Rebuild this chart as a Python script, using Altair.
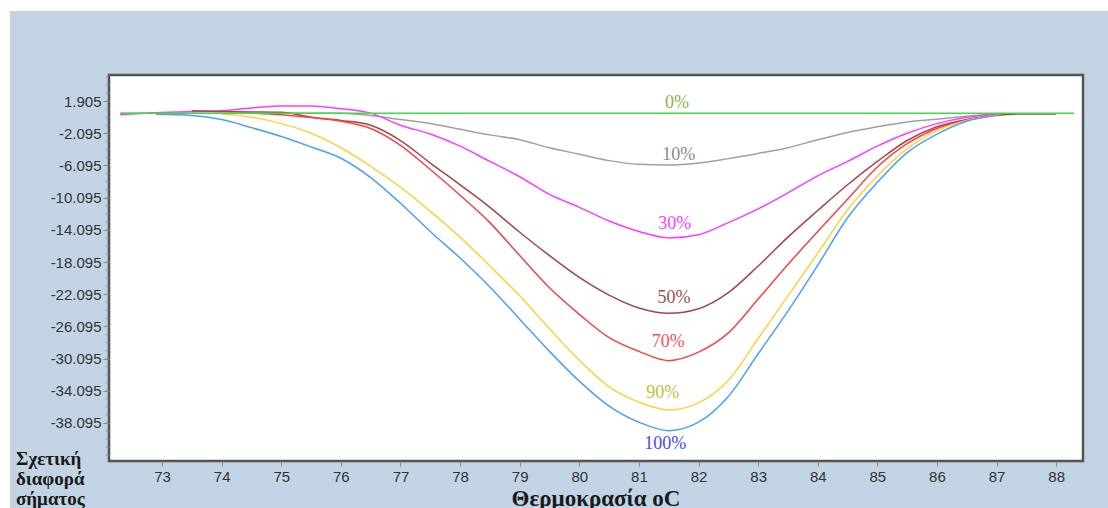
import altair as alt
import pandas as pd

# Temperature grid (°C) shared by the melt curves
TEMPS = [72.3, 72.9, 73.5, 74.0, 74.5, 75.0, 75.5, 76.0, 76.5, 77.0, 77.5, 78.0,
         78.5, 79.0, 79.5, 80.0, 80.5, 81.0, 81.5, 82.0, 82.5, 83.0, 83.5, 84.0,
         84.5, 85.0, 85.5, 86.0, 86.5, 87.0, 87.5, 88.0]

# Relative signal difference per mixture (None = not recorded)
S10 = [0.4, 0.4, 0.4, 0.4, 0.4, 0.4, 0.4, 0.4, 0.1, -0.4, -0.9, -1.6,
       -2.3, -2.9, -3.9, -4.7, -5.5, -5.95, -6.05, -5.8, -5.25, -4.6, -3.9, -2.9,
       -2.0, -1.3, -0.7, -0.35, 0.0, 0.25, None, None]
S30 = [0.2, 0.45, 0.6, 0.7, 1.05, 1.3, 1.3, 0.95, 0.4, -1.1, -2.2, -3.7,
       -5.6, -7.5, -9.7, -11.3, -13.0, -14.3, -15.1, -14.7, -13.2, -11.5, -9.5, -7.4,
       -5.6, -3.7, -2.1, -0.9, -0.1, 0.3, None, None]
S50 = [None, None, 0.7, 0.6, 0.55, 0.5, -0.1, -0.5, -1.1, -3.0, -5.8, -8.5,
       -11.3, -14.4, -17.3, -20.0, -22.2, -23.8, -24.47, -23.9, -21.9, -18.6, -15.0, -11.7,
       -8.5, -5.6, -3.0, -1.3, -0.4, 0.15, 0.3, 0.3]
S70 = [None, None, None, None, 0.4, 0.2, -0.15, -0.6, -1.5, -3.6, -6.6, -9.8,
       -13.2, -17.3, -21.3, -24.6, -27.5, -29.2, -30.35, -29.3, -26.9, -22.7, -18.4, -14.3,
       -10.3, -6.3, -3.4, -1.5, -0.5, 0.2, None, None]
S90 = [None, None, None, 0.3, -0.1, -0.9, -2.1, -3.9, -6.2, -8.8, -11.8, -15.0,
       -18.6, -22.3, -26.4, -30.3, -33.6, -35.5, -36.48, -35.6, -32.8, -27.6, -22.3, -17.0,
       -11.6, -7.4, -4.0, -1.8, -0.5, 0.15, None, None]
S100 = [None, 0.25, 0.1, -0.4, -1.4, -2.5, -3.8, -5.2, -7.6, -10.8, -14.3, -17.6,
        -21.2, -25.2, -29.2, -32.9, -36.0, -38.0, -39.05, -38.0, -34.8, -29.5, -24.2, -18.5,
        -12.6, -8.2, -4.5, -2.2, -0.6, 0.1, None, None]

# Reference (0%) line
ZERO_TEMPS = [72.3, 88.3]
ZERO_VALUES = [0.4, 0.4]

SERIES = ["10%", "30%", "50%", "70%", "90%", "100%"]
SERIES_VALUES = [S10, S30, S50, S70, S90, S100]

NAMES = ["0%", "10%", "30%", "50%", "70%", "90%", "100%"]
LINE_COLORS = ["#3fdc3f", "#a0a0a0", "#ff3cff", "#a84444", "#ff4040", "#ffd23c", "#4aa0ff"]
LABEL_COLORS = ["#8cb050", "#8c8c8c", "#ff3cff", "#a05050", "#ff5050", "#c0c040", "#4848ff"]

# Curve labels placed near the minimum of each curve
LABEL_TEMPS = [81.64, 81.67, 81.6, 81.59, 81.49, 81.4, 81.44]
LABEL_VALUES = [1.66, -4.8, -13.37, -22.6, -28.0, -34.4, -40.7]

X_TICKS = list(range(73, 89))
Y_TICKS = [1.905, -2.095, -6.095, -10.095, -14.095, -18.095, -22.095,
           -26.095, -30.095, -34.095, -38.095]

X_DOMAIN = [72.11, 88.45]
Y_DOMAIN = [-42.82, 5.14]

W, H = 974, 386
PAD = {"left": 109, "top": 75, "right": 25, "bottom": 47}

rows = []
for name, vals in zip(SERIES, SERIES_VALUES):
    for t, v in zip(TEMPS, vals):
        if v is not None:
            rows.append({"series": name, "temp": t, "value": v})
curves = pd.DataFrame(rows)
zero = pd.DataFrame({"series": "0%", "temp": ZERO_TEMPS, "value": ZERO_VALUES})
labels = pd.DataFrame({"label": NAMES, "temp": LABEL_TEMPS, "value": LABEL_VALUES})
minor = pd.DataFrame({"value": [Y_TICKS[0] + 3 - k for k in range(48)]})
minor = minor[(minor["value"] > Y_DOMAIN[0]) & (minor["value"] < Y_DOMAIN[1])]

x_scale = alt.Scale(domain=X_DOMAIN, nice=False, zero=False)
y_scale = alt.Scale(domain=Y_DOMAIN, nice=False, zero=False)
line_color = alt.Color("series:N", scale=alt.Scale(domain=NAMES, range=LINE_COLORS), legend=None)
label_color = alt.Color("label:N", scale=alt.Scale(domain=NAMES, range=LABEL_COLORS), legend=None)

x_axis = alt.Axis(values=X_TICKS, format="d", tickSize=5, tickColor="#888888",
                  labelPadding=3, labelFont="Liberation Sans", labelFontSize=15,
                  labelColor="#333333", domain=False, grid=False, title=None, zindex=1)
y_axis = alt.Axis(values=Y_TICKS, tickSize=6, tickColor="#888888", labelPadding=2,
                  labelFont="Liberation Sans", labelFontSize=15, labelColor="#333333",
                  labelExpr="datum.value < 0 ? '-' + format(abs(datum.value), '.3f') : format(datum.value, '.3f')",
                  domain=False, grid=False, title=None, zindex=1)

X = alt.X("temp:Q", scale=x_scale, axis=x_axis)
Y = alt.Y("value:Q", scale=y_scale, axis=y_axis)

# Series curves and the flat 0% line share one colour scale
curve_layer = alt.layer(
    alt.Chart(curves).mark_line(strokeWidth=1.5, interpolate="monotone").encode(
        x=X, y=Y, color=line_color, detail="series:N", order="temp:Q",
    ),
    alt.Chart(zero).mark_line(strokeWidth=1.5).encode(x=X, y=Y, color=line_color),
)

label_text = alt.Chart(labels).mark_text(
    font="Liberation Serif", fontSize=18, align="center", baseline="middle"
).encode(
    x=X, y=Y, text="label:N", color=label_color,
)

minor_ticks = alt.Chart(minor).mark_rule(color="#888888", strokeWidth=1).encode(
    y=Y, x=alt.value(-3), x2=alt.value(0),
)

one = alt.Data(values=[{}])
top_strip = alt.Chart(one).mark_rect(color="white").encode(
    x=alt.value(-PAD["left"]), x2=alt.value(W + PAD["right"]),
    y=alt.value(-PAD["top"]), y2=alt.value(-PAD["top"] + 11),
)
left_strip = alt.Chart(one).mark_rect(color="white").encode(
    x=alt.value(-PAD["left"]), x2=alt.value(-PAD["left"] + 10),
    y=alt.value(-PAD["top"]), y2=alt.value(H + PAD["bottom"]),
)

x_title = alt.Chart(one).mark_text(
    text="Θερμοκρασία oC", font="Liberation Serif", fontSize=23, fontWeight="bold",
    color="#1a1a1a", align="center", baseline="alphabetic",
).encode(x=alt.value(W / 2), y=alt.value(431))

y_title = alt.Chart(one).mark_text(
    text="Σχετική\nδιαφορά\nσήματος", lineBreak="\n", lineHeight=20,
    font="Liberation Serif", fontSize=19, fontWeight="bold",
    color="#1a1a1a", align="left", baseline="alphabetic",
).encode(x=alt.value(-93), y=alt.value(390))

chart = alt.layer(
    curve_layer, label_text, minor_ticks, top_strip, left_strip, x_title, y_title
).resolve_scale(
    color="independent"
).properties(
    width=W, height=H, padding=PAD,
    autosize=alt.AutoSizeParams(type="none"),
    background="#c2d4e4",
).configure_view(
    fill="white", stroke="#555555", strokeWidth=2.5,
)

chart.save("out.html", embed_options={"renderer": "svg", "actions": False})
